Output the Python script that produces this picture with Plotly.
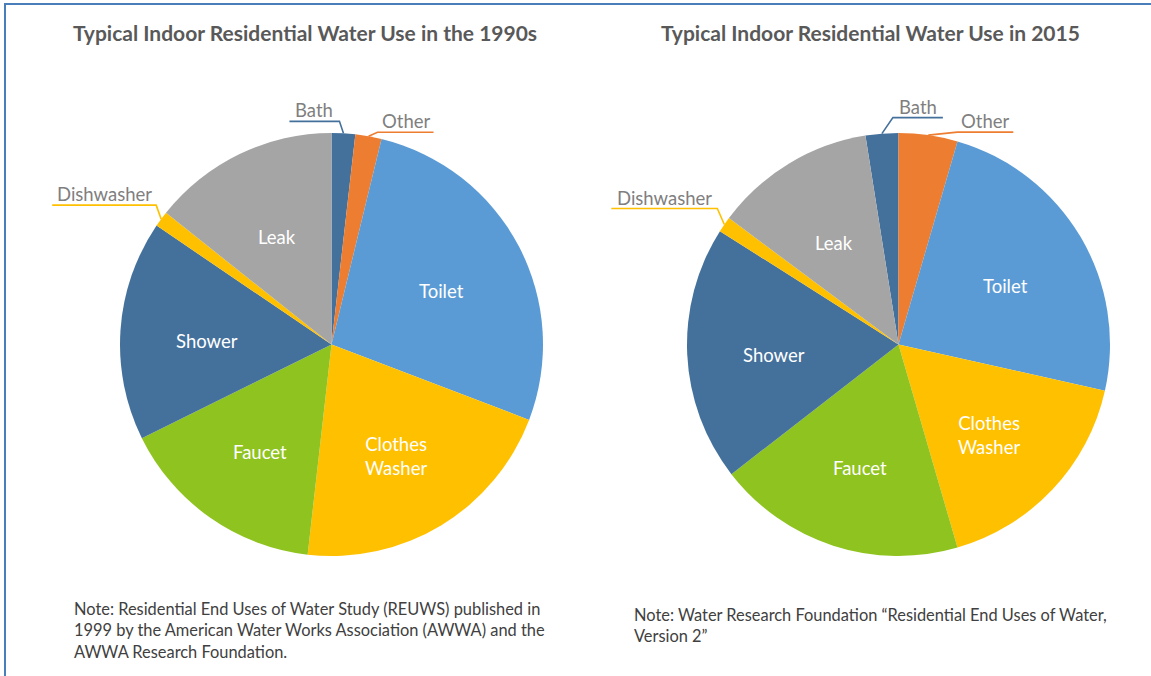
import math
import plotly.graph_objects as go

# ---------------- data ----------------
categories = ["Bath", "Other", "Toilet", "Clothes Washer", "Faucet", "Shower", "Dishwasher", "Leak"]
share_1990s = [1.8, 2.0, 27.0, 21.0, 15.9, 16.8, 1.2, 14.3]
share_2015 = [2.5, 4.5, 24.0, 17.0, 19.0, 19.5, 1.2, 12.3]
titles = ["Typical Indoor Residential Water Use in the 1990s",
          "Typical Indoor Residential Water Use in 2015"]
notes = ["Note: Residential End Uses of Water Study (REUWS) published in<br>"
         "1999 by the American Water Works Association (AWWA) and the<br>"
         "AWWA Research Foundation.",
         "Note: Water Research Foundation \u201cResidential End Uses of Water,<br>"
         "Version 2\u201d"]
display_labels = {"Clothes Washer": "Clothes<br>Washer"}
small_slices = ["Bath", "Other", "Dishwasher"]

# ---------------- style / layout ----------------
colors = ["#44719C", "#ED7D31", "#5B9BD5", "#FFC000", "#8FC31F", "#44719C", "#FFC000", "#A5A5A5"]
W, H = 1151, 676
R = 211.5
LABEL_R = 0.59
LABEL_DY = 5
centers = [(331.5, 344.5), (898.5, 344.5)]
FONT = "Lato, 'Open Sans', sans-serif"
# leader line geometry: elbow offset from slice edge point, horizontal length (sign = direction)
leaders = [
    {"Bath": (-4, -12, -50), "Other": (9, -4, 56), "Dishwasher": (-5, -14, -104)},
    {"Bath": (11, -16, 50), "Other": (29, -3, 56), "Dishwasher": (-7, -16, -106)},
]
title_x = [305, 870]
note_pos = [(72, 597), (632, 603)]


def px(x, y):
    return x / W, 1 - y / H


fig = go.Figure()
shapes = []
annotations = []

for k, shares in enumerate([share_1990s, share_2015]):
    total = sum(shares)
    # 2015 chart: last-drawn Bath slice ends at 12 o'clock
    rotation = 0 if k == 0 else -shares[0] / total * 360
    cx, cy = centers[k]
    x0, y1 = px(cx - R, cy - R)
    x1, y0 = px(cx + R, cy + R)
    fig.add_trace(go.Pie(
        labels=categories, values=shares, sort=False, direction="clockwise",
        rotation=rotation, textinfo="none",
        marker=dict(colors=colors, line=dict(width=0)),
        domain=dict(x=[x0, x1], y=[y0, y1]), showlegend=False, hoverinfo="label+value",
    ))
    cum = 0
    for c, v, col in zip(categories, shares, colors):
        mid = rotation + (cum + v / 2) / total * 360
        cum += v
        a = math.radians(mid)
        if c not in small_slices:
            lx, ly = px(cx + LABEL_R * R * math.sin(a), cy - LABEL_R * R * math.cos(a) + LABEL_DY)
            annotations.append(dict(x=lx, y=ly, xref="paper", yref="paper",
                                    text=display_labels.get(c, c), showarrow=False,
                                    font=dict(size=18.5, color="white", family=FONT),
                                    xanchor="center", yanchor="middle"))
            continue
        ex, ey = cx + R * math.sin(a), cy - R * math.cos(a)
        dx, dy, L = leaders[k][c]
        bx, by = ex + dx, ey + dy
        fx = bx + L
        p = [px(ex, ey), px(bx, by), px(fx, by)]
        shapes.append(dict(type="path", xref="paper", yref="paper",
                           path="M %f,%f L %f,%f L %f,%f" % (p[0][0], p[0][1], p[1][0], p[1][1], p[2][0], p[2][1]),
                           line=dict(color=col, width=1.6)))
        tx, ty = px((bx + fx) / 2, by - 11)
        annotations.append(dict(x=tx, y=ty, xref="paper", yref="paper", text=c, showarrow=False,
                                font=dict(size=18.5, color="#7F7F7F", family=FONT),
                                xanchor="center", yanchor="middle"))
    # title
    tx, ty = px(title_x[k], 33)
    annotations.append(dict(x=tx, y=ty, xref="paper", yref="paper", text="<b>" + titles[k] + "</b>",
                            showarrow=False, font=dict(size=21, color="#595959", family=FONT),
                            xanchor="center", yanchor="middle"))
    nx, ny = px(*note_pos[k])
    annotations.append(dict(x=nx, y=ny, xref="paper", yref="paper", text=notes[k], showarrow=False,
                            align="left", font=dict(size=16.4, color="#404040", family=FONT),
                            xanchor="left", yanchor="top"))

# frame (left and top edges)
a0, a1, a2 = px(5, H + 5), px(5, 4), px(W + 5, 4)
shapes.append(dict(type="path", xref="paper", yref="paper",
                   path="M %f,%f L %f,%f L %f,%f" % (a0[0], a0[1], a1[0], a1[1], a2[0], a2[1]),
                   line=dict(color="#4A7EBB", width=2)))

fig.update_layout(width=W, height=H, margin=dict(l=0, r=0, t=0, b=0),
                  paper_bgcolor="white", plot_bgcolor="white",
                  shapes=shapes, annotations=annotations)
fig.write_html("out.html")
